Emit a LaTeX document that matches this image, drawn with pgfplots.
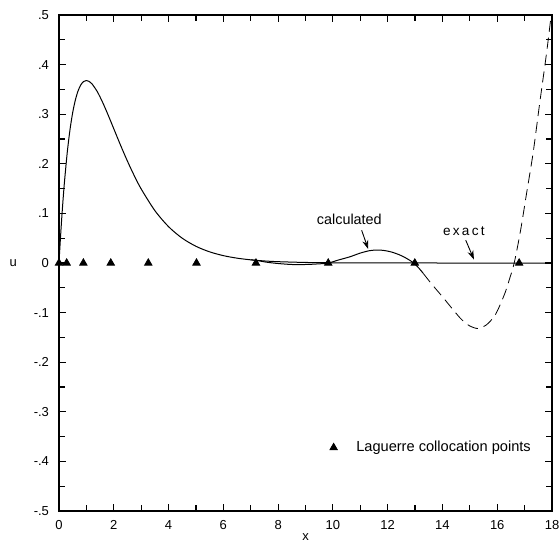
\documentclass[border=0pt]{standalone}
\usepackage{fontspec}
\setmainfont{Liberation Sans}
\usepackage{pgfplots}
\pgfplotsset{compat=1.18}
\usetikzlibrary{arrows.meta}

\begin{document}
\begin{tikzpicture}
\begin{axis}[
scale only axis,width=246.5pt,height=248pt,
xmin=0,xmax=18,ymin=-0.5,ymax=0.5,
xtick={0,2,...,18},xticklabels={0,2,4,6,8,10,12,14,16,18},
ytick={-0.5,-0.4,-0.3,-0.2,-0.1,0,0.1,0.2,0.3,0.4,0.5},
yticklabels={-.5,-.4,-.3,-.2,-.1,0,.1,.2,.3,.4,.5},
minor x tick num=1,minor y tick num=1,
tick align=inside,major tick length=3.5pt,minor tick length=3pt,
tick style={line width=0.6pt,black},
axis line style={line width=0.8pt},
tick label style={font=\fontsize{6.5}{7.5}\selectfont},
yticklabel style={xshift=-1.5pt},
xticklabel style={yshift=-1.2pt},
xlabel={x},ylabel={u},
label style={font=\fontsize{6.5}{7.5}\selectfont},
xlabel style={at={(axis description cs:0.5,-0.0524)},anchor=center},
ylabel style={at={(axis description cs:-0.093,0.5)},anchor=center,rotate=-90},
clip=false,
legend style={at={(axis cs:9.88,-0.372)},anchor=west,draw=none,fill=none,
  font=\fontsize{7.3}{8.5}\selectfont,inner sep=0pt},
legend cell align=left]
% exact solution
\addplot[black,line width=0.5pt,smooth,forget plot] coordinates {
(0,0) (0.02,0.0196) (0.05,0.04756) (0.1,0.09048) (0.15,0.12911) (0.2,0.16375)
(0.3,0.22225) (0.4,0.26813) (0.5,0.30327) (0.6,0.32929) (0.7,0.34761)
(0.8,0.35946) (0.9,0.36591) (1.0,0.36788) (1.1,0.36616) (1.2,0.36143)
(1.4,0.34524) (1.6,0.32303) (1.8,0.29754) (2.0,0.27067) (2.25,0.23715)
(2.5,0.20521) (2.75,0.17580) (3.0,0.14936) (3.5,0.10569) (4.0,0.07326)
(4.5,0.04999) (5.0,0.03369) (5.5,0.02248) (6.0,0.01487) (6.5,0.00977)
(7.0,0.00638) (7.5,0.00415) (8.0,0.00268) (9.0,0.00111) (10,0.00045)
(11,0.00018) (12,0.00007) (14,0.00001) (18,0)};
% calculated, inside the collocation range
\addplot[black,line width=0.5pt,smooth,forget plot] coordinates {
(7.0,0.0064) (7.19,0.0054) (7.6,0.0015) (8.0,-0.001) (8.5,-0.003) (9.0,-0.003)
(9.4,-0.002) (9.83,0.0) (10.2,0.006) (10.62,0.0125) (11.0,0.020) (11.35,0.025)
(11.6,0.026) (11.84,0.0255) (12.15,0.022) (12.45,0.016) (12.7,0.009)
(12.95,0.0) (13.15,-0.011) (13.3,-0.021)};
% calculated, beyond
\addplot[black,line width=0.4pt,smooth,dash pattern=on 5.5pt off 3pt,forget plot] coordinates {
(13.3,-0.021) (13.6,-0.042) (14.0,-0.068) (14.4,-0.095) (14.7,-0.114)
(15.0,-0.127) (15.3,-0.132) (15.6,-0.125) (15.9,-0.107) (16.1,-0.085)
(16.3,-0.058) (16.45,-0.032) (16.62,0.0) (16.85,0.065) (17.07,0.14)
(17.31,0.222) (17.55,0.322) (17.8,0.423) (17.97,0.5)};
% collocation points
\addplot[only marks,mark=triangle*,mark size=2.1pt,black] coordinates {
(0,0) (0.28,0) (0.89,0) (1.89,0) (3.26,0) (5.02,0) (7.19,0) (9.83,0)
(12.99,0) (16.8,0)};
\addlegendentry{\hspace{7.5pt}Laguerre collocation points}
\node[font=\fontsize{7.2}{8.5}\selectfont] at (axis cs:10.6,0.087) {calculated};
\draw[line width=0.45pt,-{Stealth[length=4.5pt,width=3pt]}] (axis cs:11.05,0.066) -- (axis cs:11.29,0.028);
\node[font=\fontsize{6.8}{8}\selectfont] at (axis cs:14.78,0.065) {e\,x\,a\,c\,t};
\draw[line width=0.45pt,-{Stealth[length=4.5pt,width=3pt]}] (axis cs:14.85,0.046) -- (axis cs:15.15,0.007);
\coordinate (ll) at (rel axis cs:0,0);
\coordinate (ur) at (rel axis cs:1,1);
\end{axis}
\pgfresetboundingbox
\path ([shift={(-29.5pt,-15.5pt)}]ll) rectangle ([shift={(3.5pt,7.5pt)}]ur);
\end{tikzpicture}
\end{document}
